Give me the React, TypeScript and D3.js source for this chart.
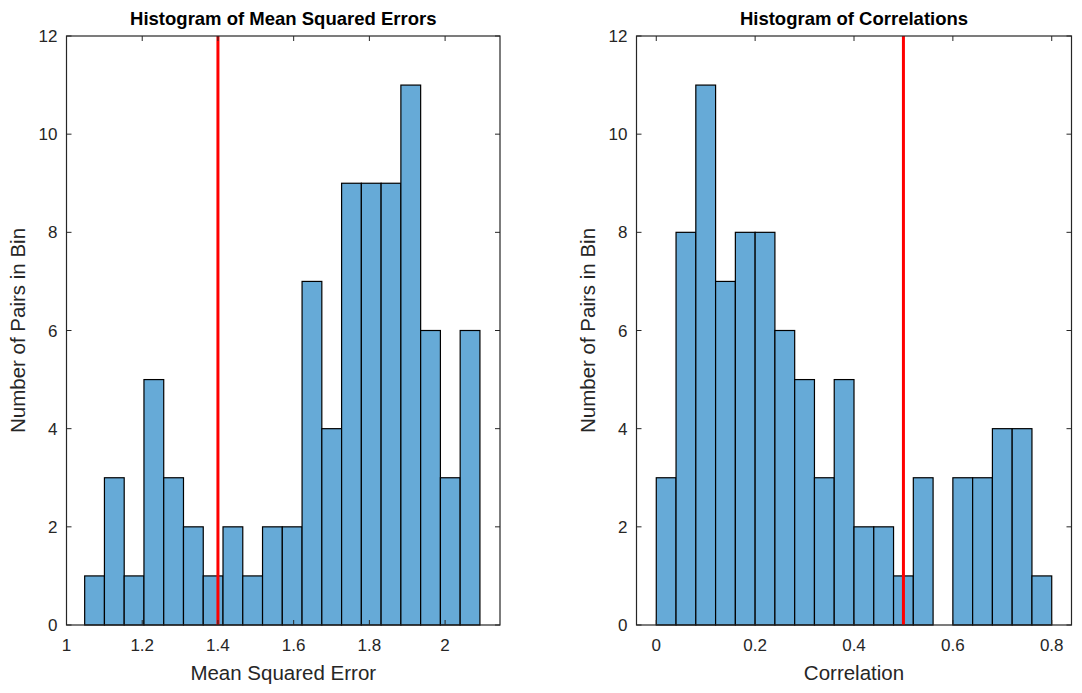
import { useEffect, useRef } from "react";
import * as d3 from "d3";

// bin counts
const mseCounts = [1, 3, 1, 5, 3, 2, 1, 2, 1, 2, 2, 7, 4, 9, 9, 9, 11, 6, 3, 6];
const mseBinStart = 1.048;
const mseBinWidth = 0.0522;
const mseTicks = [1, 1.2, 1.4, 1.6, 1.8, 2];
const mseMarker = 1.4;

const corrCounts = [3, 8, 11, 7, 8, 8, 6, 5, 3, 5, 2, 2, 1, 3, 0, 3, 3, 4, 4, 1];
const corrBinStart = 0;
const corrBinWidth = 0.04;
const corrTicks = [0, 0.2, 0.4, 0.6, 0.8];
const corrMarker = 0.5;

const yTicks = [0, 2, 4, 6, 8, 10, 12];

const width = 1082;
const height = 693;
const font = "'Liberation Sans', Arial, sans-serif";
const axisColor = "#262626";

interface PanelSpec {
  left: number;
  right: number;
  domain: [number, number];
  counts: number[];
  binStart: number;
  binWidth: number;
  ticks: number[];
  marker: number;
  title: string;
  xLabel: string;
}

function drawPanel(
  svg: d3.Selection<SVGSVGElement, unknown, null, undefined>,
  p: PanelSpec
) {
  const top = 36;
  const bottom = 625;
  const tickLen = 5;
  const x = d3.scaleLinear().domain(p.domain).range([p.left, p.right]);
  const y = d3.scaleLinear().domain([0, 12]).range([bottom, top]);
  const g = svg.append("g");

  const bins = p.counts.map((c, i) => ({
    x0: p.binStart + i * p.binWidth,
    x1: p.binStart + (i + 1) * p.binWidth,
    c,
  }));

  g.selectAll("rect.bar")
    .data(bins.filter((b) => b.c > 0))
    .enter()
    .append("rect")
    .attr("x", (d) => x(d.x0))
    .attr("width", (d) => x(d.x1) - x(d.x0))
    .attr("y", (d) => y(d.c))
    .attr("height", (d) => y(0) - y(d.c))
    .attr("fill", "#66aad7")
    .attr("stroke", "#000")
    .attr("stroke-width", 1.2);

  // red reference line
  g.append("line")
    .attr("x1", x(p.marker))
    .attr("x2", x(p.marker))
    .attr("y1", y(12))
    .attr("y2", y(0))
    .attr("stroke", "#ff0000")
    .attr("stroke-width", 3);

  // box
  g.append("rect")
    .attr("x", p.left)
    .attr("y", top)
    .attr("width", p.right - p.left)
    .attr("height", bottom - top)
    .attr("fill", "none")
    .attr("stroke", axisColor)
    .attr("stroke-width", 1.2);

  // x ticks (bottom + top, inward)
  p.ticks.forEach((t) => {
    g.append("line")
      .attr("x1", x(t)).attr("x2", x(t))
      .attr("y1", bottom).attr("y2", bottom - tickLen)
      .attr("stroke", axisColor);
    g.append("line")
      .attr("x1", x(t)).attr("x2", x(t))
      .attr("y1", top).attr("y2", top + tickLen)
      .attr("stroke", axisColor);
    g.append("text")
      .attr("x", x(t))
      .attr("y", bottom + 26)
      .attr("text-anchor", "middle")
      .attr("font-family", font)
      .attr("font-size", 17)
      .attr("fill", axisColor)
      .text(d3.format("~g")(t));
  });

  // y ticks
  yTicks.forEach((t) => {
    g.append("line")
      .attr("x1", p.left).attr("x2", p.left + tickLen)
      .attr("y1", y(t)).attr("y2", y(t))
      .attr("stroke", axisColor);
    g.append("line")
      .attr("x1", p.right).attr("x2", p.right - tickLen)
      .attr("y1", y(t)).attr("y2", y(t))
      .attr("stroke", axisColor);
    g.append("text")
      .attr("x", p.left - 9)
      .attr("y", y(t) + 6)
      .attr("text-anchor", "end")
      .attr("font-family", font)
      .attr("font-size", 17)
      .attr("fill", axisColor)
      .text(String(t));
  });

  // title
  g.append("text")
    .attr("x", (p.left + p.right) / 2)
    .attr("y", 25)
    .attr("text-anchor", "middle")
    .attr("font-family", font)
    .attr("font-weight", "bold")
    .attr("font-size", 18.5)
    .attr("fill", "#000")
    .text(p.title);

  // x label
  g.append("text")
    .attr("x", (p.left + p.right) / 2)
    .attr("y", 680)
    .attr("text-anchor", "middle")
    .attr("font-family", font)
    .attr("font-size", 20.5)
    .attr("fill", axisColor)
    .text(p.xLabel);

  // y label
  g.append("text")
    .attr("transform", `translate(${p.left - 41.5}, ${(top + bottom) / 2}) rotate(-90)`)
    .attr("text-anchor", "middle")
    .attr("font-family", font)
    .attr("font-size", 20.5)
    .attr("fill", axisColor)
    .text("Number of Pairs in Bin");
}

function App() {
  const svgRef = useRef<SVGSVGElement | null>(null);

  useEffect(() => {
    const svg = d3.select(svgRef.current as SVGSVGElement);
    svg.selectAll("*").remove();

    drawPanel(svg, {
      left: 66.5,
      right: 500,
      domain: [1, 2.145],
      counts: mseCounts,
      binStart: mseBinStart,
      binWidth: mseBinWidth,
      ticks: mseTicks,
      marker: mseMarker,
      title: "Histogram of Mean Squared Errors",
      xLabel: "Mean Squared Error",
    });

    drawPanel(svg, {
      left: 636.5,
      right: 1071.5,
      domain: [-0.04, 0.84],
      counts: corrCounts,
      binStart: corrBinStart,
      binWidth: corrBinWidth,
      ticks: corrTicks,
      marker: corrMarker,
      title: "Histogram of Correlations",
      xLabel: "Correlation",
    });
  }, []);

  return (
    <svg
      ref={svgRef}
      width={width}
      height={height}
      style={{ position: "absolute", left: 0, top: 0, background: "#fff" }}
    ></svg>
  );
}

export default App;
